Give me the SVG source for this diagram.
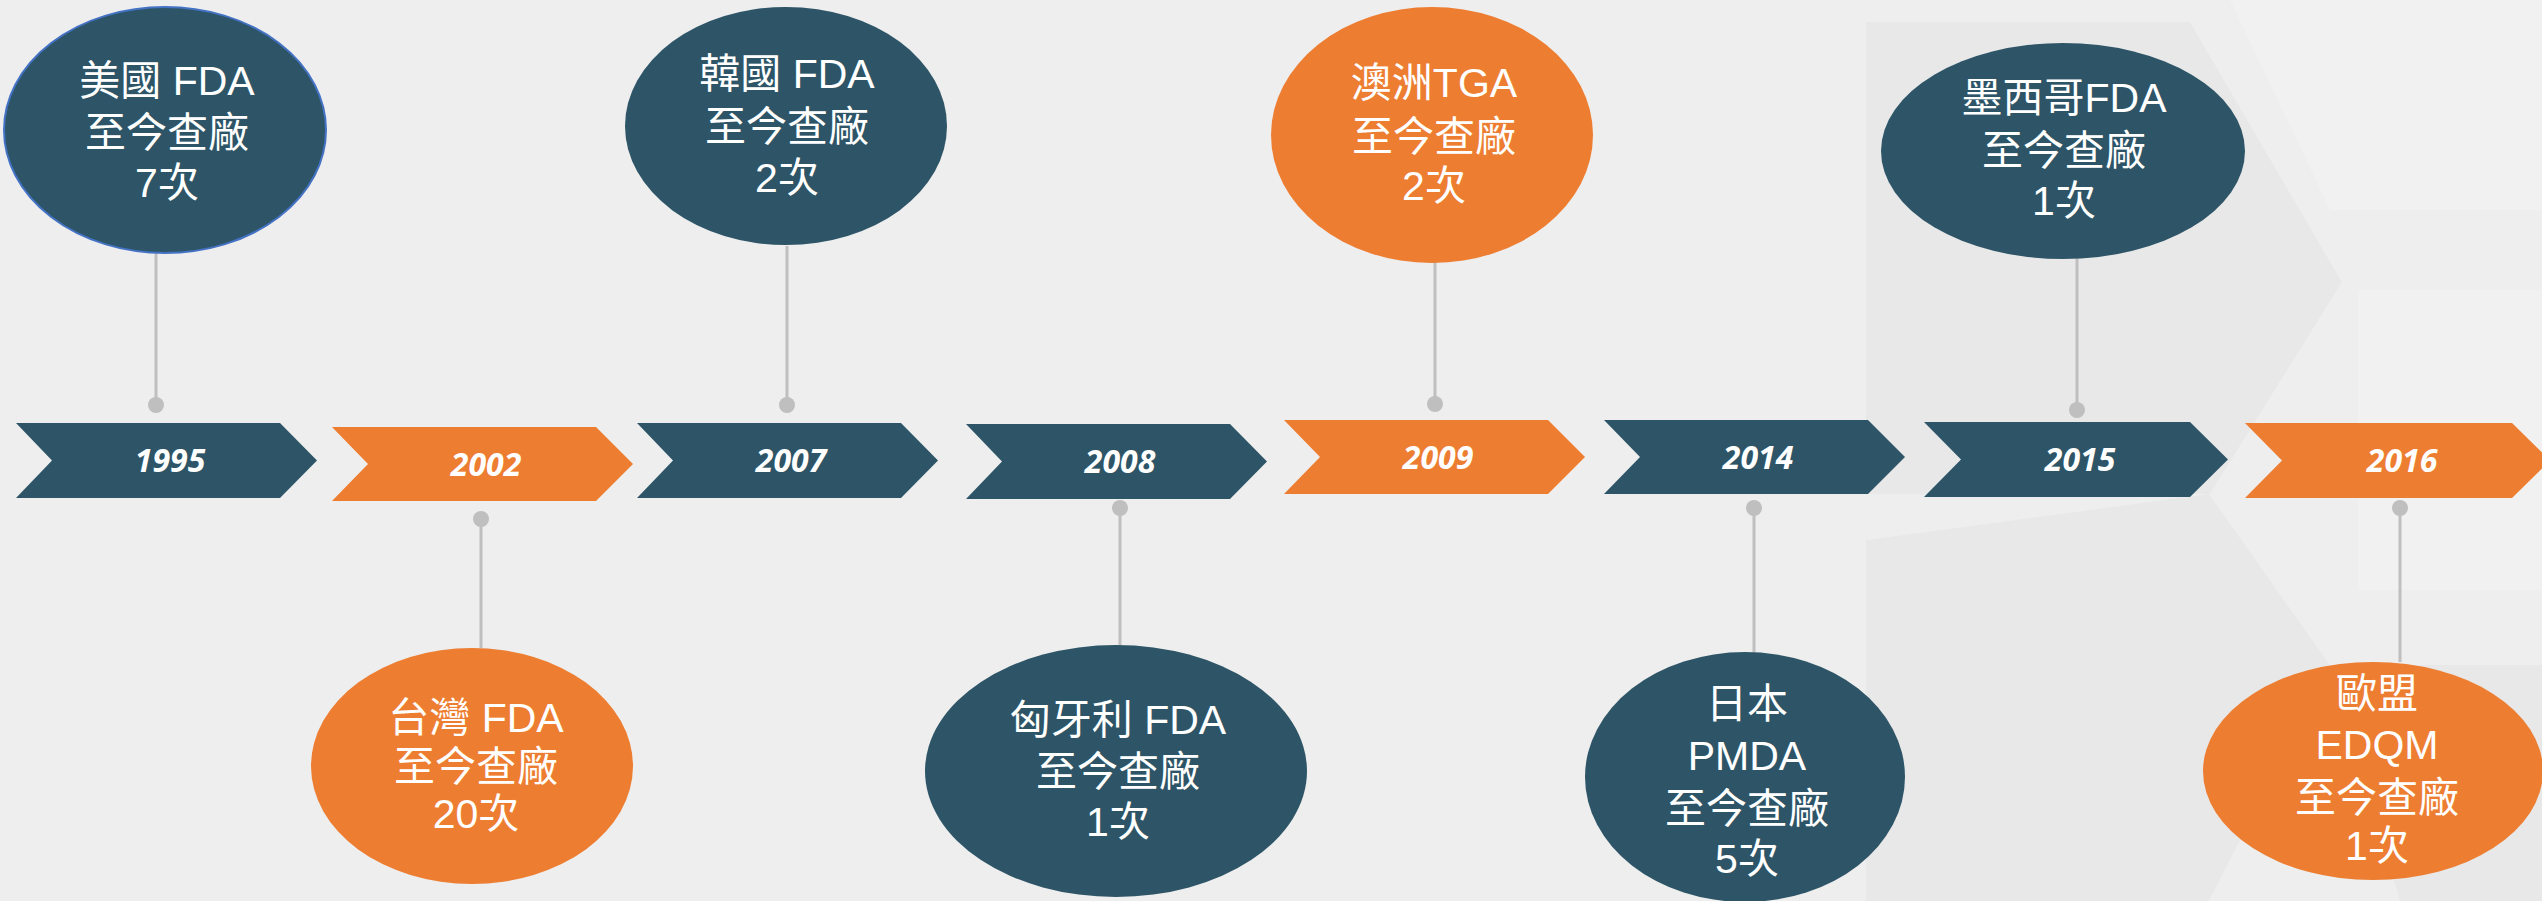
<svg xmlns="http://www.w3.org/2000/svg" width="2542" height="901" viewBox="0 0 2542 901">
<style>
.bg{fill:#EEEEEE}
.dark{fill:#2D5567}
.orange{fill:#ED7D31}
.conn line{stroke:#BFBFBF;stroke-width:3}
.conn circle{fill:#BFBFBF}
.lbl{font-family:"Liberation Sans","Noto Sans CJK TC",sans-serif;font-size:41px;fill:#FFFFFF;text-anchor:middle}
.yr{font-family:"Open Sans","Liberation Sans",sans-serif;font-size:32px;font-weight:bold;font-style:italic;fill:#FFFFFF;text-anchor:middle}
.hex{fill:#000000;opacity:0.022}
.hexl{fill:#FFFFFF;opacity:0.18}
</style>
<rect class="bg" x="0" y="0" width="2542" height="901"/>
<g id="background">
<polygon class="hex" points="1866,22 2190,22 2342,282 2210,494 1866,494"/>
<polygon class="hex" points="1866,540 2209,494 2330,665 2209,901 1866,901"/>
<polygon class="hexl" points="2358,290 2542,290 2542,590 2358,590"/>
<polygon class="hexl" points="2230,0 2542,0 2542,210 2330,210"/>
<polygon class="hex" points="2330,665 2542,665 2542,901 2400,901"/>
</g>
<g id="connectors" class="conn">
<line x1="156" y1="252" x2="156" y2="405"/><circle cx="156" cy="405" r="8"/>
<line x1="481" y1="519" x2="481" y2="648"/><circle cx="481" cy="519" r="8"/>
<line x1="787" y1="246" x2="787" y2="405"/><circle cx="787" cy="405" r="8"/>
<line x1="1120" y1="508" x2="1120" y2="647"/><circle cx="1120" cy="508" r="8"/>
<line x1="1435" y1="262" x2="1435" y2="404"/><circle cx="1435" cy="404" r="8"/>
<line x1="1754" y1="508" x2="1754" y2="653"/><circle cx="1754" cy="508" r="8"/>
<line x1="2077" y1="258" x2="2077" y2="410"/><circle cx="2077" cy="410" r="8"/>
<line x1="2400" y1="508" x2="2400" y2="662"/><circle cx="2400" cy="508" r="8"/>
</g>
<g id="y1995">
<polygon class="dark" points="16,423 280,423 317,460.5 280,498 16,498 52,460.5"/>
<text class="yr" x="170" y="472">1995</text>
</g>
<g id="y2002">
<polygon class="orange" points="332,427 596,427 633,464 596,501 332,501 368,464"/>
<text class="yr" x="486" y="475.5">2002</text>
</g>
<g id="y2007">
<polygon class="dark" points="637,423 901,423 938,460.5 901,498 637,498 673,460.5"/>
<text class="yr" x="791" y="472">2007</text>
</g>
<g id="y2008">
<polygon class="dark" points="966,424 1230,424 1267,461.5 1230,499 966,499 1002,461.5"/>
<text class="yr" x="1120" y="473">2008</text>
</g>
<g id="y2009">
<polygon class="orange" points="1284,420 1548,420 1585,457 1548,494 1284,494 1320,457"/>
<text class="yr" x="1438" y="468.5">2009</text>
</g>
<g id="y2014">
<polygon class="dark" points="1604,420 1868,420 1905,457 1868,494 1604,494 1640,457"/>
<text class="yr" x="1758" y="468.5">2014</text>
</g>
<g id="y2015">
<polygon class="dark" points="1924,422 2190,422 2228,459.5 2190,497 1924,497 1961,459.5"/>
<text class="yr" x="2080" y="471">2015</text>
</g>
<g id="y2016">
<polygon class="orange" points="2245,423 2512,423 2550,460.5 2512,498 2245,498 2282,460.5"/>
<text class="yr" x="2402" y="472">2016</text>
</g>
<g id="n1995">
<ellipse class="dark" cx="165" cy="130" rx="161" ry="123" stroke="#4472C4" stroke-width="2"/>
<text class="lbl" x="167" y="95">美國 FDA</text>
<text class="lbl" x="167" y="147">至今查廠</text>
<text class="lbl" x="167" y="197">7次</text>
</g>
<g id="n2002">
<ellipse class="orange" cx="472" cy="766" rx="161" ry="118"/>
<text class="lbl" x="476" y="732">台灣 FDA</text>
<text class="lbl" x="476" y="781">至今查廠</text>
<text class="lbl" x="476" y="828">20次</text>
</g>
<g id="n2007">
<ellipse class="dark" cx="786" cy="126" rx="161" ry="119"/>
<text class="lbl" x="787" y="88">韓國 FDA</text>
<text class="lbl" x="787" y="141">至今查廠</text>
<text class="lbl" x="787" y="192">2次</text>
</g>
<g id="n2008">
<ellipse class="dark" cx="1116" cy="771" rx="191" ry="126"/>
<text class="lbl" x="1118" y="734">匈牙利 FDA</text>
<text class="lbl" x="1118" y="786">至今查廠</text>
<text class="lbl" x="1118" y="836">1次</text>
</g>
<g id="n2009">
<ellipse class="orange" cx="1432" cy="135" rx="161" ry="128"/>
<text class="lbl" x="1434" y="97">澳洲TGA</text>
<text class="lbl" x="1434" y="151">至今查廠</text>
<text class="lbl" x="1434" y="200">2次</text>
</g>
<g id="n2014">
<ellipse class="dark" cx="1745" cy="777" rx="160" ry="125"/>
<text class="lbl" x="1747" y="718">日本</text>
<text class="lbl" x="1747" y="770">PMDA</text>
<text class="lbl" x="1747" y="823">至今查廠</text>
<text class="lbl" x="1747" y="873">5次</text>
</g>
<g id="n2015">
<ellipse class="dark" cx="2063" cy="151" rx="182" ry="108"/>
<text class="lbl" x="2064" y="112">墨西哥FDA</text>
<text class="lbl" x="2064" y="165">至今查廠</text>
<text class="lbl" x="2064" y="215">1次</text>
</g>
<g id="n2016">
<ellipse class="orange" cx="2373" cy="771" rx="170" ry="109"/>
<text class="lbl" x="2377" y="708">歐盟</text>
<text class="lbl" x="2377" y="759">EDQM</text>
<text class="lbl" x="2377" y="812">至今查廠</text>
<text class="lbl" x="2377" y="860">1次</text>
</g>
</svg>
